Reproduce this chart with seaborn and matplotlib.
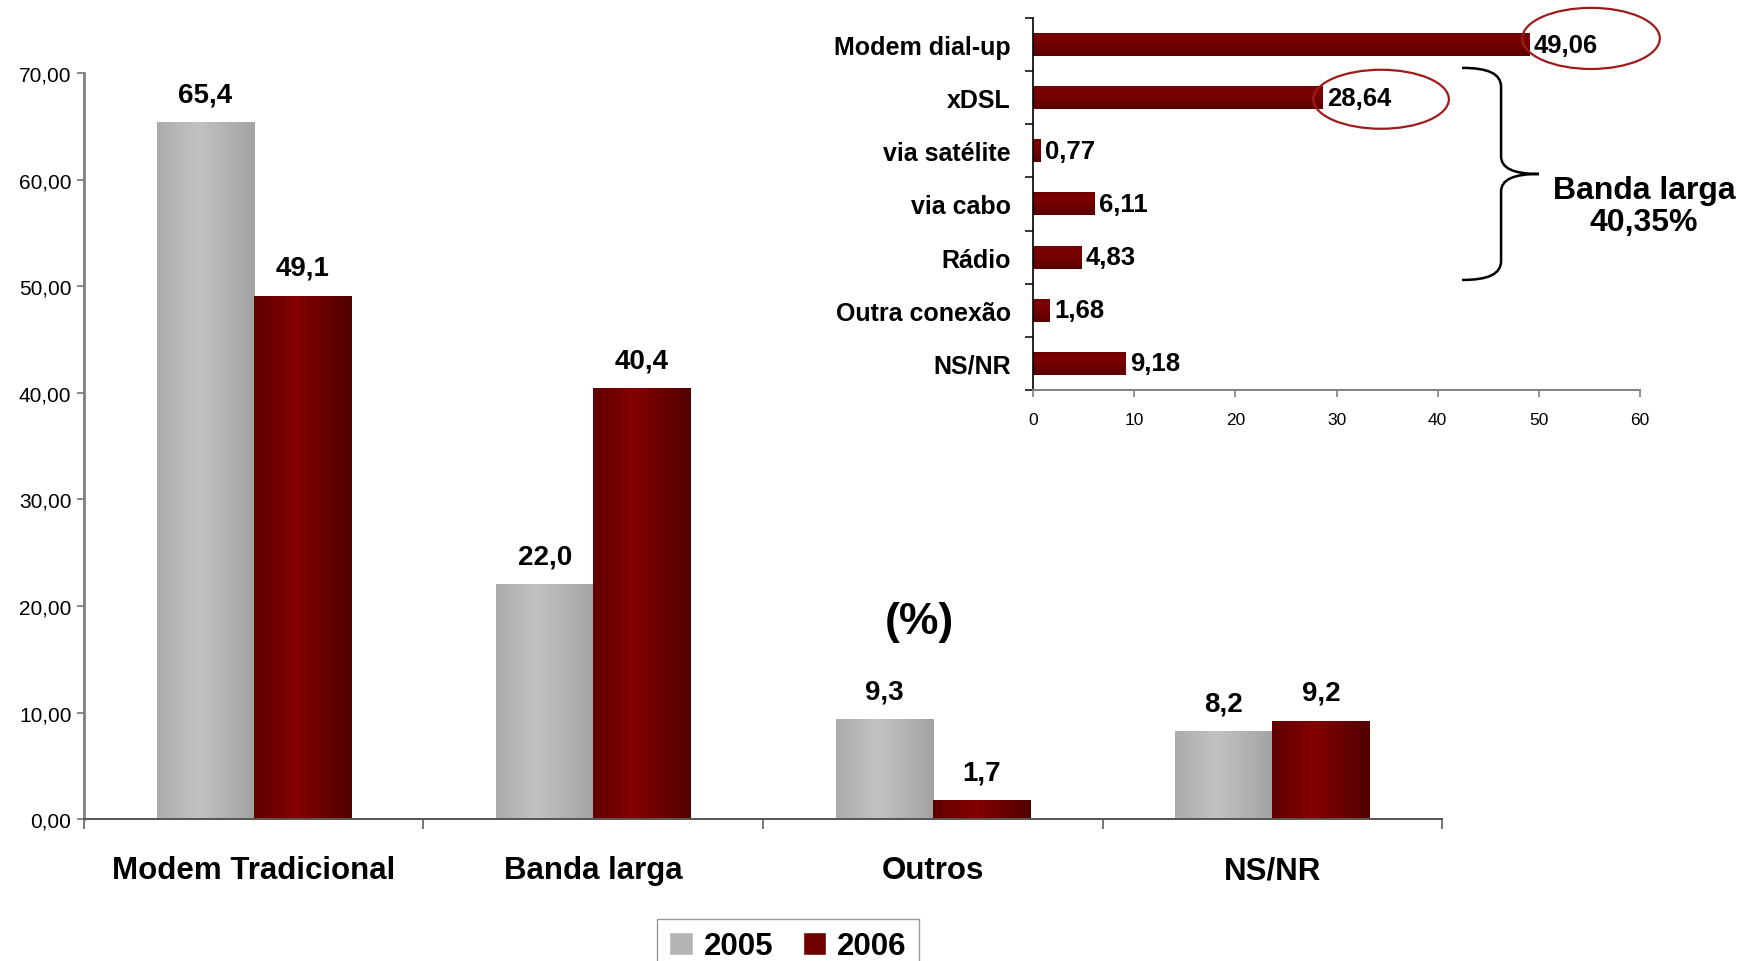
import numpy as np
import pandas as pd
import seaborn as sns
import matplotlib
matplotlib.use("Agg")
from matplotlib import pyplot as plt
from matplotlib.colors import LinearSegmentedColormap
from matplotlib.patches import Ellipse, PathPatch, Patch
from matplotlib.path import Path

sns.set_style("white")
plt.rcParams['font.family'] = ['Liberation Sans', 'DejaVu Sans']
plt.rcParams['text.color'] = 'black'
plt.rcParams['xtick.labelcolor'] = 'black'
plt.rcParams['ytick.labelcolor'] = 'black'

# main chart data
categories = ['Modem Tradicional', 'Banda larga', 'Outros', 'NS/NR']
years = ['2005', '2006']
values_2005 = [65.4, 22.0, 9.3, 8.2]
values_2006 = [49.1, 40.4, 1.7, 9.2]

# inset (2006 by connection type)
conn_types = ['Modem dial-up', 'xDSL', 'via satélite', 'via cabo', 'Rádio',
              'Outra conexão', 'NS/NR']
conn_values = [49.06, 28.64, 0.77, 6.11, 4.83, 1.68, 9.18]

df = pd.DataFrame({
    'categoria': categories * 2,
    'ano': [years[0]] * 4 + [years[1]] * 4,
    'valor': values_2005 + values_2006,
})

gray_cmap = LinearSegmentedColormap.from_list('g', ['#a3a3a3', '#c2c2c2'])
red_cmap = LinearSegmentedColormap.from_list('r', ['#520000', '#840000'])
red_cmap_h = LinearSegmentedColormap.from_list('rh', ['#5a0000', '#7e0000'])


def comma(v, nd):
    return f"{v:.{nd}f}".replace('.', ',')


def paint(ax, bar, cmap, vertical=False, peak=0.42):
    # gradient fill over a bar, excel style
    x0, y0 = bar.get_x(), bar.get_y()
    w, h = bar.get_width(), bar.get_height()
    t = np.linspace(0, 1, 200)
    prof = np.clip(1 - np.abs(t - peak) / (1 - peak), 0, 1)
    if vertical:
        img = prof.reshape(-1, 1)
        ext = (x0, x0 + w, y0 + h, y0)
    else:
        img = prof.reshape(1, -1)
        ext = (x0, x0 + w, y0, y0 + h)
    ax.imshow(img, cmap=cmap, extent=ext, aspect='auto', vmin=0, vmax=1,
              interpolation='bilinear', zorder=bar.get_zorder() + 0.5)


fig = plt.figure(figsize=(17.42, 9.62), dpi=100)

# ============= main bars ==============
ax = fig.add_axes([0.0482, 0.1476, 0.7796, 0.7750])
sns.barplot(data=df, x='categoria', y='valor', hue='ano',
            palette=['#b4b4b4', '#6e0000'], width=0.572, errorbar=None,
            saturation=1, linewidth=0, legend=False, ax=ax)

for cont, cmap in zip(ax.containers, [gray_cmap, red_cmap]):
    for bar in cont:
        paint(ax, bar, cmap)
    ax.bar_label(cont, labels=[comma(b.get_height(), 1) for b in cont],
                 padding=11, fontsize=20, fontweight='bold')

ax.set_xlim(-0.5, 3.5)
ax.set_ylim(0, 70)
ax.set_xlabel('')
ax.set_ylabel('')
ax.set_yticks(np.arange(0, 71, 10))
ax.set_yticklabels([comma(v, 2) for v in np.arange(0, 71, 10)], fontsize=15)
ax.tick_params(axis='y', length=5, width=1.3, color='#808080', pad=4, left=True)
ax.set_xticks(range(4))
ax.set_xticklabels(categories, fontsize=22.5, fontweight='bold')
ax.tick_params(axis='x', which='major', length=0, pad=26)
ax.set_xticks(np.arange(-0.5, 4, 1), minor=True)
ax.tick_params(axis='x', which='minor', length=7, width=1.2, color='#606060',
               bottom=True, direction='out')
for s in ['top', 'right']:
    ax.spines[s].set_visible(False)
ax.spines['left'].set_color('#808080')
ax.spines['left'].set_linewidth(2)
ax.spines['bottom'].set_color('#555555')
ax.spines['bottom'].set_linewidth(1.4)

fig.text(0.5276, 0.3534, '(%)', fontsize=32, fontweight='bold',
         ha='center', va='center')

fig.legend(handles=[Patch(facecolor='#b4b4b4'), Patch(facecolor='#6e0000')],
           labels=years, loc='upper left', bbox_to_anchor=(0.377, 0.0437),
           ncol=2, frameon=True, fancybox=False, edgecolor='#808080',
           prop={'weight': 'bold', 'size': 22.5}, handlelength=0.75,
           handleheight=0.75, handletextpad=0.35, columnspacing=0.95,
           borderpad=0.4, borderaxespad=0)

# ============= inset bars ==============
ax2 = fig.add_axes([0.5930, 0.5936, 0.3485, 0.3867])
sns.barplot(x=conn_values, y=conn_types, orient='h', color='#700000',
            width=0.43, errorbar=None, saturation=1, linewidth=0, ax=ax2)
for bar in ax2.containers[0]:
    paint(ax2, bar, red_cmap_h, vertical=True, peak=0.3)
ax2.bar_label(ax2.containers[0], labels=[comma(v, 2) for v in conn_values],
              padding=3, fontsize=18.5, fontweight='bold')

ax2.set_xlim(0, 60)
ax2.set_ylim(6.5, -0.5)
ax2.set_xticks(np.arange(0, 61, 10))
ax2.set_xticklabels([str(v) for v in range(0, 61, 10)], fontsize=12.5)
ax2.tick_params(axis='x', length=5, width=1.2, color='#808080', bottom=True, pad=11)
ax2.set_yticks(range(len(conn_types)))
ax2.set_yticklabels(conn_types, fontsize=18, fontweight='bold')
ax2.tick_params(axis='y', which='major', length=0, pad=16)
ax2.set_yticks(np.arange(-0.5, 7, 1), minor=True)
ax2.tick_params(axis='y', which='minor', length=6, width=1.1, color='black',
                left=True, direction='out')
for s in ['top', 'right']:
    ax2.spines[s].set_visible(False)
ax2.spines['left'].set_color('black')
ax2.spines['left'].set_linewidth(1.2)
ax2.spines['bottom'].set_color('#808080')
ax2.spines['bottom'].set_linewidth(1.4)

# circles round the two biggest values
for cx, cy, w, h in [(55.15, -0.115, 13.6, 1.15), (34.4, 1.03, 13.4, 1.11)]:
    ax2.add_patch(Ellipse((cx, cy), w, h, fill=False, edgecolor='#9e1b1b',
                          linewidth=1.6, clip_on=False, zorder=5))

# brace for "banda larga"
verts = [(42.4, 0.44), (45.0, 0.44), (46.26, 0.55), (46.26, 0.80),
         (46.26, 2.10),
         (46.26, 2.33), (47.5, 2.436), (50.0, 2.436),
         (47.5, 2.436), (46.26, 2.54), (46.26, 2.77),
         (46.26, 4.07),
         (46.26, 4.32), (45.0, 4.43), (42.4, 4.43)]
codes = [Path.MOVETO, Path.CURVE4, Path.CURVE4, Path.CURVE4,
         Path.LINETO,
         Path.CURVE4, Path.CURVE4, Path.CURVE4,
         Path.CURVE4, Path.CURVE4, Path.CURVE4,
         Path.LINETO,
         Path.CURVE4, Path.CURVE4, Path.CURVE4]
ax2.add_patch(PathPatch(Path(verts, codes), fill=False, edgecolor='black',
                        linewidth=1.8, clip_on=False))

fig.text(0.9437, 0.785, 'Banda larga\n40,35%', fontsize=23, fontweight='bold',
         ha='center', va='center', linespacing=1.1)

fig.savefig('out.png', dpi=100)
